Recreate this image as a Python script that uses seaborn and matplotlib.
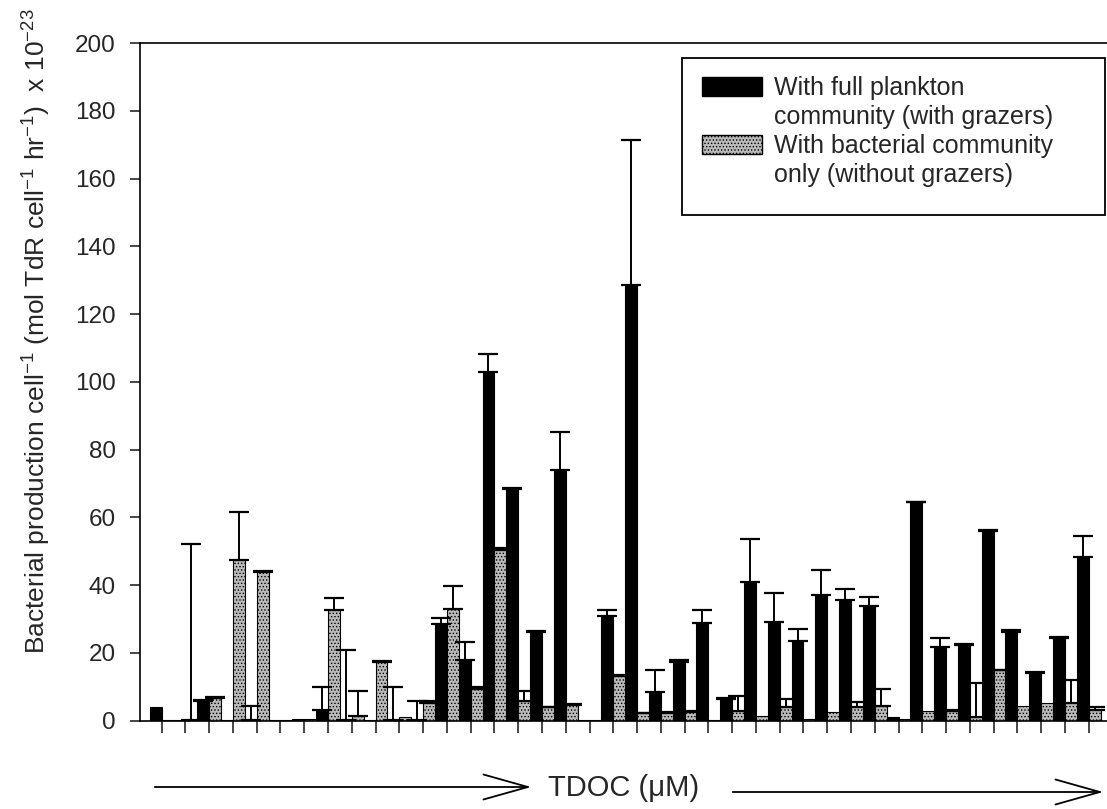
import numpy as np
import pandas as pd
import matplotlib
matplotlib.use("Agg")
import matplotlib.pyplot as plt
from matplotlib.patches import FancyArrowPatch, Patch, Rectangle
import seaborn as sns

# ---- data ----
categories = list(range(40))
with_grazers = [4.1, 0.3, 5.9, 0.2, 0.3, 0.2, 0.5, 3.2, 0.3, 0.2,
                0.3, 0.3, 28.6, 18.0, 103.0, 68.3, 26.3, 74.1, 0.2, 31.0,
                128.5, 8.4, 17.2, 28.8, 6.4, 40.8, 29.2, 23.4, 37.1, 35.6,
                33.9, 1.2, 64.4, 21.8, 22.4, 56.0, 26.1, 14.1, 24.3, 48.3]
with_grazers_err = [0, 0, 0.3, 0, 4.1, 0, 0, 6.6, 20.5, 0,
                    9.7, 5.4, 1.6, 5.1, 5.2, 0.3, 0.3, 11.0, 0, 1.7,
                    43.0, 6.6, 0.8, 3.9, 0.3, 12.7, 8.4, 3.6, 7.3, 3.4,
                    2.7, 0, 0.2, 2.5, 0.3, 0.3, 0.6, 0.3, 0.3, 6.3]
without_grazers = [0.2, 0.3, 6.8, 47.5, 44.0, 0.2, 0.5, 32.6, 1.5, 17.2,
                   1.0, 5.2, 33.1, 9.3, 50.5, 5.9, 3.9, 4.7, 0.2, 13.3,
                   2.2, 2.2, 2.5, 0.3, 2.9, 1.5, 3.9, 0.5, 2.5, 3.9,
                   4.4, 0.5, 2.8, 2.8, 1.2, 14.9, 4.4, 5.1, 5.1, 3.1]
without_grazers_err = [0, 51.7, 0.2, 14.2, 0.3, 0, 0, 3.5, 7.3, 0.3,
                       0, 0.5, 6.7, 0.5, 0.5, 2.8, 0.2, 0.2, 0, 0.2,
                       0.2, 0.3, 0.3, 0, 4.5, 0, 2.5, 0, 0, 1.5,
                       4.9, 0, 0, 0.5, 9.8, 0.2, 0, 0, 6.9, 1.0]
series_names = ["with grazers", "without grazers"]
legend_lines = ["With full plankton", "community (with grazers)",
                "With bacterial community", "only (without grazers)"]
y_ticks = [0, 20, 40, 60, 80, 100, 120, 140, 160, 180, 200]

GRAY = "#bababa"
HATCH = "....."

sns.set_style("ticks")
plt.rcParams["font.family"] = ["Liberation Sans", "DejaVu Sans"]
plt.rcParams["mathtext.default"] = "regular"
plt.rcParams["hatch.linewidth"] = 0.6

df = pd.DataFrame({
    "cat": categories * 2,
    "value": with_grazers + without_grazers,
    "group": [series_names[0]] * 40 + [series_names[1]] * 40,
})

W, H = 1107, 809
fig = plt.figure(figsize=(W / 100, H / 100), dpi=100)
ax = fig.add_axes([140 / W, (H - 720.7) / H, (W - 140) / W, (720.7 - 43) / H])

sns.barplot(data=df, x="cat", y="value", hue="group", order=categories,
            hue_order=series_names, palette=["black", GRAY],
            width=1.0, gap=0, dodge=True, errorbar=None,
            edgecolor="black", linewidth=0.8, saturation=1, ax=ax, legend=False)

cont_black, cont_gray = ax.containers[0], ax.containers[1]
for p in cont_gray:
    p.set_hatch(HATCH)

for cont, vals, errs in [(cont_black, with_grazers, with_grazers_err),
                         (cont_gray, without_grazers, without_grazers_err)]:
    xs, ys, es = [], [], []
    for p, v, e in zip(cont, vals, errs):
        if e > 0:
            xs.append(p.get_x() + p.get_width() / 2)
            ys.append(v)
            es.append(e)
    ax.errorbar(xs, ys, yerr=[np.zeros(len(es)), es], fmt="none",
                ecolor="black", elinewidth=1.4, capsize=7.5, capthick=1.6, zorder=3)

ax.set_xlim(-0.91, 39.77)
ax.set_ylim(0, 200)
ax.set_yticks(y_ticks)
ax.set_xticks(categories)
ax.set_xticklabels([])
ax.tick_params(axis="y", direction="out", length=7.5, width=1.2, labelsize=17.5, pad=10)
ax.tick_params(axis="x", direction="out", length=8.5, width=1.2)
for s in ax.spines.values():
    s.set_linewidth(1.2)
    s.set_color("black")
ax.spines["right"].set_visible(False)
ax.set_xlabel("")
ax.set_ylabel(r"Bacterial production cell$^{-1}$ (mol TdR cell$^{-1}$ hr$^{-1}$)  x 10$^{-23}$",
              fontsize=19)
ax.yaxis.set_label_coords(-0.090, 0.575)

# legend: four text rows, handles on the first line of each entry
invisible = Patch(facecolor="none", edgecolor="none")
handles = [Patch(facecolor="black", edgecolor="black"), invisible,
           Patch(facecolor=GRAY, edgecolor="black", hatch=HATCH), invisible]
leg = fig.legend(handles, legend_lines, loc="upper left",
                 bbox_to_anchor=(702 / W, 1 - 76 / H),
                 fontsize=18, frameon=False,
                 handlelength=2.4, handleheight=0.76, handletextpad=0.5,
                 labelspacing=0.2, borderpad=0, borderaxespad=0)
fig.patches.append(Rectangle((681.7 / W, 1 - 215 / H), (1105 - 681.7) / W, (215 - 58) / H,
                             transform=fig.transFigure, facecolor="white",
                             edgecolor="black", linewidth=1.3, zorder=4))
leg.set_zorder(5)

# x-axis label with arrows
fig.text(624 / W, 1 - 788 / H, "TDOC (\u03bcM)", fontsize=21, ha="center", va="center")
for (x0, x1, yy) in [(152, 534, 787), (730, 1106, 792)]:
    arr = FancyArrowPatch((x0 / W, 1 - yy / H), (x1 / W, 1 - yy / H),
                          transform=fig.transFigure,
                          arrowstyle="->,head_length=1.6,head_width=0.45",
                          mutation_scale=20, color="black", linewidth=1.3)
    fig.patches.append(arr)

fig.savefig("out.png", dpi=100)
